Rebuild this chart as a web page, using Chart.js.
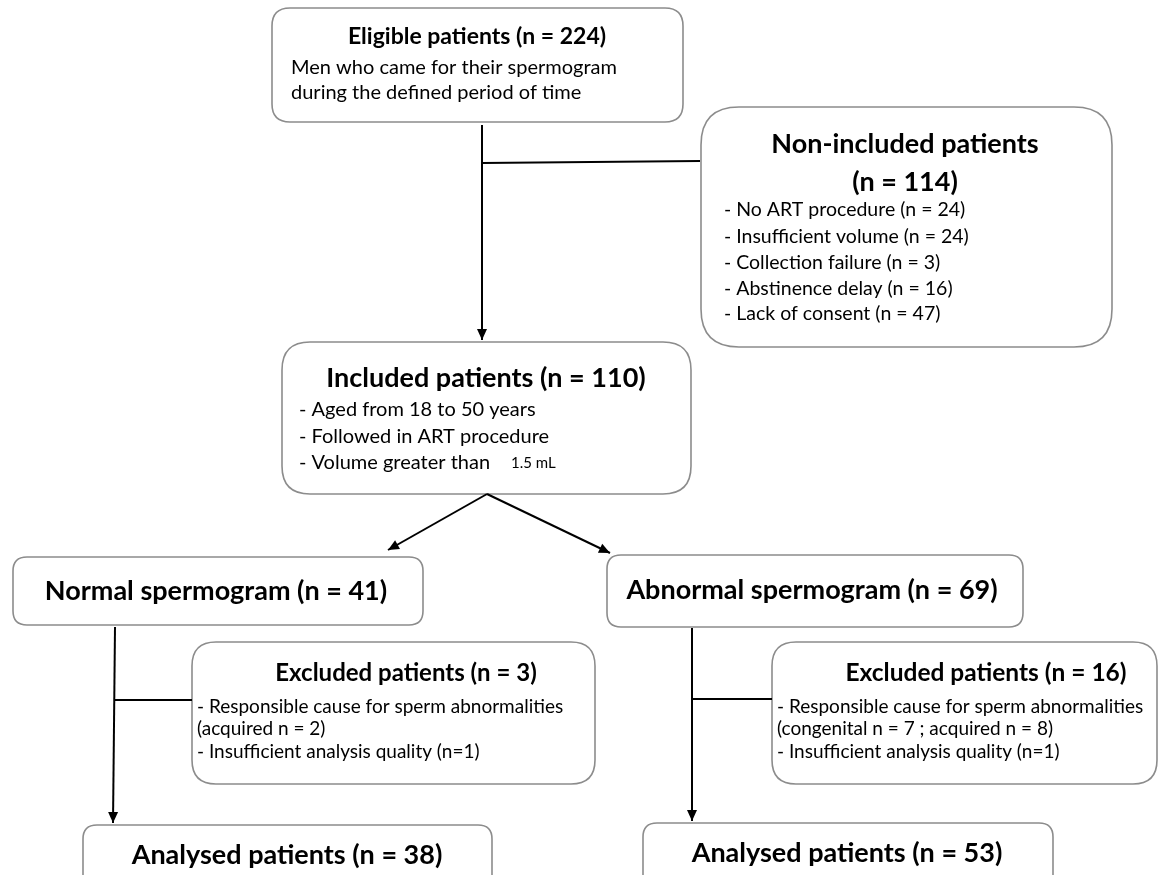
<!DOCTYPE html>
<html>
<head>
<meta charset="utf-8">
<script src="https://cdn.jsdelivr.net/npm/chart.js@4.4.1/dist/chart.umd.min.js"></script>
<style>
  html, body { margin: 0; padding: 0; background: #fff; }
  #wrap { width: 1161px; height: 875px; }
</style>
</head>
<body>
<div id="wrap"><canvas id="flow"></canvas></div>
<script>
// counts
const eligibleN = 224;
const nonIncludedN = 114;
const nonIncludedReasons = ['No ART procedure', 'Insufficient volume', 'Collection failure', 'Abstinence delay', 'Lack of consent'];
const nonIncludedCounts = [24, 24, 3, 16, 47];
const includedN = 110;
const includedCriteria = ['Aged from 18 to 50 years', 'Followed in ART procedure', 'Volume greater than'];
const groupNames = ['Normal spermogram', 'Abnormal spermogram'];
const groupCounts = [41, 69];
const excludedCounts = [3, 16];
const excludedCauses = ['acquired n = 2', 'congenital n = 7 ; acquired n = 8'];
const poorQualityCounts = [1, 1];
const analysedCounts = [38, 53];

const FONT = 'Lato, "Open Sans", sans-serif';
const BORDER = '#8c8c8c';

// box layout in diagram units (same as pixels of the reference)
const boxes = [
    { x0: 272, y0: 8,   x1: 683,  y1: 122, r: 18 },   // eligible
    { x0: 701, y0: 107, x1: 1112, y1: 347, r: 38 },   // non-included
    { x0: 282, y0: 342, x1: 691,  y1: 494, r: 28 },   // included
    { x0: 13,  y0: 557, x1: 423,  y1: 625, r: 14 },   // normal
    { x0: 607, y0: 555, x1: 1023, y1: 627, r: 14 },   // abnormal
    { x0: 192, y0: 642, x1: 595,  y1: 784, r: 24 },   // excluded left
    { x0: 772, y0: 642, x1: 1157, y1: 784, r: 24 },   // excluded right
    { x0: 83,  y0: 825, x1: 492,  y1: 905, r: 14 },   // analysed left
    { x0: 643, y0: 823, x1: 1053, y1: 905, r: 14 }    // analysed right
];

// connectors: [from, to, arrow?]
const links = [
    [[482, 125], [482, 340], true],
    [[482, 163], [700, 161], false],
    [[487, 494], [388, 550], true],
    [[487, 494], [610, 553], true],
    [[115, 627], [113, 823], true],
    [[115, 700], [192, 700], false],
    [[692, 628], [692, 821], true],
    [[692, 699], [772, 699], false]
];

// text lines: [text, x, y, size, bold, align]
const texts = [
    [`Eligible patients (n = ${eligibleN})`, 477, 37, 23, true, 'center'],
    ['Men who came for their spermogram', 291, 68, 20, false, 'left'],
    ['during the defined period of time', 291, 93, 20, false, 'left'],

    ['Non-included patients', 905, 144, 27, true, 'center'],
    [`(n = ${nonIncludedN})`, 905, 182, 27, true, 'center'],
    ...nonIncludedReasons.map((r, i) => [`- ${r} (n = ${nonIncludedCounts[i]})`, 724, [210, 237, 263, 289, 314][i], 19.5, false, 'left']),

    [`Included patients (n = ${includedN})`, 486, 378, 27, true, 'center'],
    ...includedCriteria.map((c, i) => [`- ${c}`, 299, [410, 437, 463][i], 20, false, 'left']),
    ['1.5 mL', 511, 463, 15, false, 'left'],

    [`${groupNames[0]} (n = ${groupCounts[0]})`, 216, 591, 27, true, 'center'],
    [`${groupNames[1]} (n = ${groupCounts[1]})`, 812, 590, 27, true, 'center'],

    [`Excluded patients (n = ${excludedCounts[0]})`, 406, 673, 24, true, 'center'],
    ['- Responsible cause for sperm abnormalities', 197, 707, 19, false, 'left'],
    [`(${excludedCauses[0]})`, 197, 729, 19, false, 'left'],
    [`- Insufficient analysis quality (n=${poorQualityCounts[0]})`, 197, 752, 19, false, 'left'],

    [`Excluded patients (n = ${excludedCounts[1]})`, 986, 673, 24.5, true, 'center'],
    ['- Responsible cause for sperm abnormalities', 777, 707, 19, false, 'left'],
    [`(${excludedCauses[1]})`, 777, 729, 19, false, 'left'],
    [`- Insufficient analysis quality (n=${poorQualityCounts[1]})`, 777, 752, 19, false, 'left'],

    [`Analysed patients (n = ${analysedCounts[0]})`, 287, 855, 27, true, 'center'],
    [`Analysed patients (n = ${analysedCounts[1]})`, 847, 853, 27, true, 'center']
];

function roundRect(ctx, x0, y0, x1, y1, r) {
    ctx.beginPath();
    ctx.moveTo(x0 + r, y0);
    ctx.lineTo(x1 - r, y0);
    ctx.quadraticCurveTo(x1, y0, x1, y0 + r);
    ctx.lineTo(x1, y1 - r);
    ctx.quadraticCurveTo(x1, y1, x1 - r, y1);
    ctx.lineTo(x0 + r, y1);
    ctx.quadraticCurveTo(x0, y1, x0, y1 - r);
    ctx.lineTo(x0, y0 + r);
    ctx.quadraticCurveTo(x0, y0, x0 + r, y0);
    ctx.closePath();
}

const flowPlugin = {
    id: 'flow',
    beforeDatasetsDraw(chart) {
        const { ctx, scales: { x, y } } = chart;
        ctx.save();
        boxes.forEach(b => {
            roundRect(ctx, x.getPixelForValue(b.x0), y.getPixelForValue(b.y0),
                x.getPixelForValue(b.x1), y.getPixelForValue(b.y1), b.r);
            ctx.fillStyle = '#fff';
            ctx.fill();
            ctx.strokeStyle = BORDER;
            ctx.lineWidth = 1.6;
            ctx.stroke();
        });
        ctx.restore();
    },
    afterDatasetsDraw(chart) {
        const { ctx, scales: { x, y } } = chart;
        ctx.save();
        // arrow heads
        links.forEach(([a, b, arrow]) => {
            if (!arrow) return;
            const x0 = x.getPixelForValue(a[0]), y0 = y.getPixelForValue(a[1]);
            const x1 = x.getPixelForValue(b[0]), y1 = y.getPixelForValue(b[1]);
            const ang = Math.atan2(y1 - y0, x1 - x0);
            const len = 11, half = 5;
            ctx.beginPath();
            ctx.moveTo(x1, y1);
            ctx.lineTo(x1 - len * Math.cos(ang) + half * Math.sin(ang), y1 - len * Math.sin(ang) - half * Math.cos(ang));
            ctx.lineTo(x1 - len * Math.cos(ang) - half * Math.sin(ang), y1 - len * Math.sin(ang) + half * Math.cos(ang));
            ctx.closePath();
            ctx.fillStyle = '#000';
            ctx.fill();
        });
        // labels
        ctx.fillStyle = '#000';
        ctx.textBaseline = 'middle';
        texts.forEach(([t, tx, ty, size, bold, align]) => {
            ctx.font = `${bold ? 'bold ' : ''}${size}px ${FONT}`;
            ctx.textAlign = align;
            ctx.fillText(t, x.getPixelForValue(tx), y.getPixelForValue(ty));
        });
        ctx.restore();
    }
};

new Chart(document.getElementById('flow'), {
    type: 'scatter',
    data: {
        datasets: links.map(([a, b]) => ({
            data: [{ x: a[0], y: a[1] }, { x: b[0], y: b[1] }],
            showLine: true,
            borderColor: '#000',
            borderWidth: 2,
            pointRadius: 0,
            fill: false
        }))
    },
    options: {
        responsive: true,
        maintainAspectRatio: false,
        animation: false,
        layout: { padding: 0 },
        scales: {
            x: { type: 'linear', min: 0, max: 1161, display: false },
            y: { type: 'linear', min: 0, max: 875, reverse: true, display: false }
        },
        plugins: { legend: { display: false }, tooltip: { enabled: false } }
    },
    plugins: [flowPlugin]
});
</script>
</body>
</html>
